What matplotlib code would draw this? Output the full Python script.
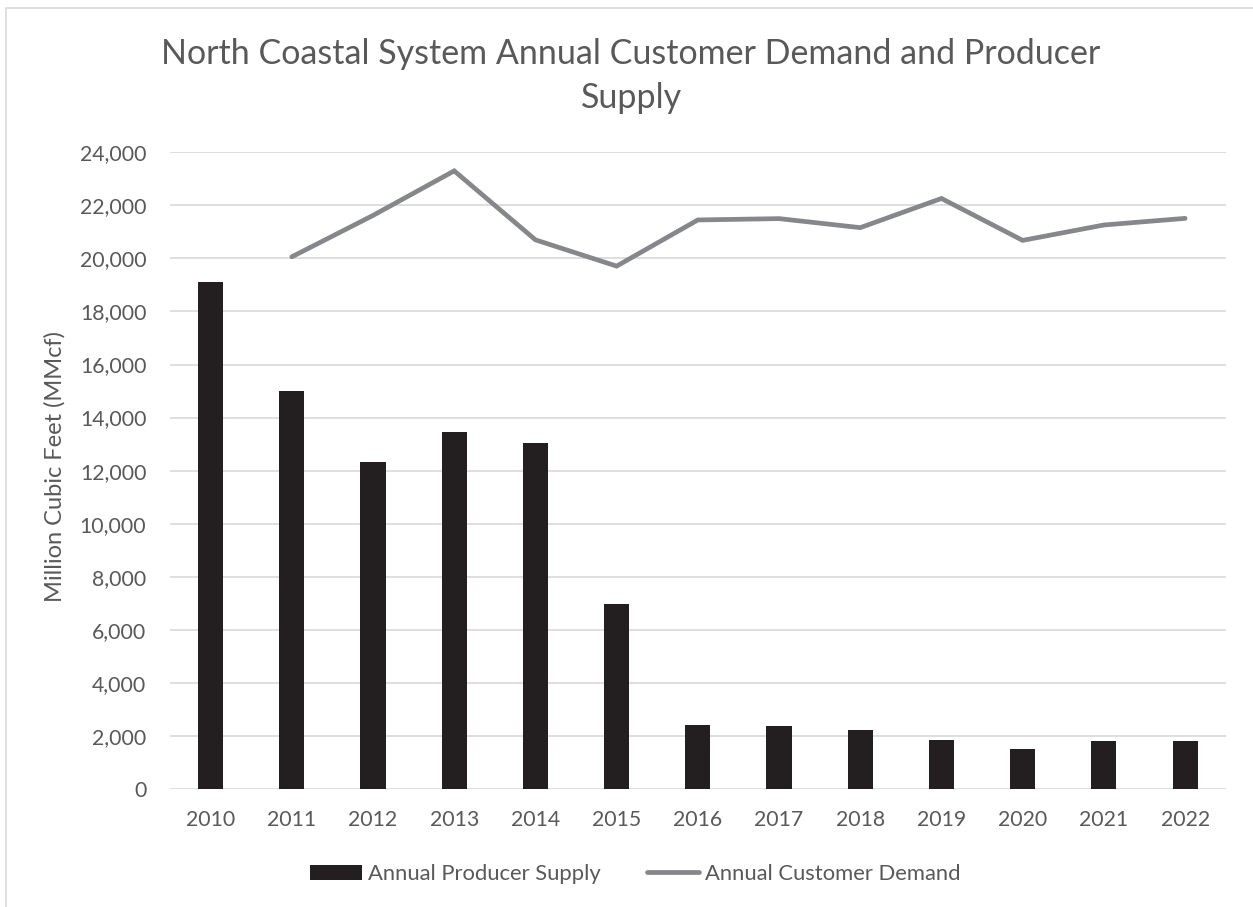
import matplotlib
matplotlib.use("Agg")
import matplotlib.pyplot as plt
from matplotlib.patches import Rectangle
from matplotlib.ticker import FuncFormatter, MultipleLocator

years = ["2010", "2011", "2012", "2013", "2014", "2015", "2016",
         "2017", "2018", "2019", "2020", "2021", "2022"]
producer_supply = [19120, 15010, 12310, 13440, 13030, 6990, 2420,
                   2380, 2220, 1830, 1520, 1820, 1800]
demand_years = ["2011", "2012", "2013", "2014", "2015", "2016",
                "2017", "2018", "2019", "2020", "2021", "2022"]
customer_demand = [20060, 21620, 23300, 20700, 19710, 21450,
                   21500, 21160, 22260, 20680, 21260, 21510]

TXT = "#595959"
plt.rcParams['font.family'] = ['Lato', 'DejaVu Sans']

W, H = 1253, 907
fig = plt.figure(figsize=(W / 100, H / 100), dpi=100)
fig.patch.set_facecolor("white")

# chart frame (cropped at right/bottom)
fig.add_artist(Rectangle((6 / W, -0.1), 1.2, (1 - 8 / H) + 0.1,
                         transform=fig.transFigure, fill=False,
                         edgecolor="#d9d9d9", linewidth=1.2))

left, right, top, bottom = 170, 1225.7, 152.3, 789
ax = fig.add_axes([left / W, 1 - bottom / H, (right - left) / W, (bottom - top) / H])

x = list(range(len(years)))
bars = ax.bar(x, producer_supply, width=0.31, color="#231f20",
              label="Annual Producer Supply", zorder=2)
xd = [years.index(y) for y in demand_years]
line, = ax.plot(xd, customer_demand, color="#86878b", linewidth=3.4,
                solid_capstyle="round", solid_joinstyle="miter",
                label="Annual Customer Demand", zorder=3)

ax.set_xlim(-0.5, len(years) - 0.5)
ax.set_ylim(0, 24000)
ax.yaxis.set_major_locator(MultipleLocator(2000))
ax.yaxis.set_major_formatter(FuncFormatter(lambda v, p: f"{int(v):,}"))
ax.set_xticks(x)
ax.set_xticklabels(years)
ax.grid(axis="y", color="#d9d9d9", linewidth=1.2, zorder=0)
ax.set_axisbelow(True)
for s in ax.spines.values():
    s.set_visible(False)
ax.tick_params(axis="both", length=0, labelsize=15.3, labelcolor=TXT)
ax.tick_params(axis="y", pad=17)
ax.tick_params(axis="x", pad=15)

ax.set_ylabel("Million Cubic Feet (MMcf)", fontsize=17, color=TXT)
ax.yaxis.set_label_coords((66 - left) / (right - left), (bottom - 466.7) / (bottom - top))

fig.text(631 / W, 1 - 64 / H,
         "North Coastal System Annual Customer Demand and Producer",
         ha="center", va="baseline", fontsize=24.5, color=TXT)
fig.text(631 / W, 1 - 108 / H, "Supply",
         ha="center", va="baseline", fontsize=24.5, color=TXT)

leg = fig.legend(handles=[bars, line],
                 labels=["Annual Producer Supply", "Annual Customer Demand"],
                 loc="center", bbox_to_anchor=(635 / W, 1 - 874 / H),
                 ncol=2, frameon=False, fontsize=15.8, labelcolor=TXT,
                 handlelength=2.4, handletextpad=0.25, columnspacing=2.1,
                 handleheight=0.7)

fig.savefig("out.png", dpi=100, facecolor="white")
